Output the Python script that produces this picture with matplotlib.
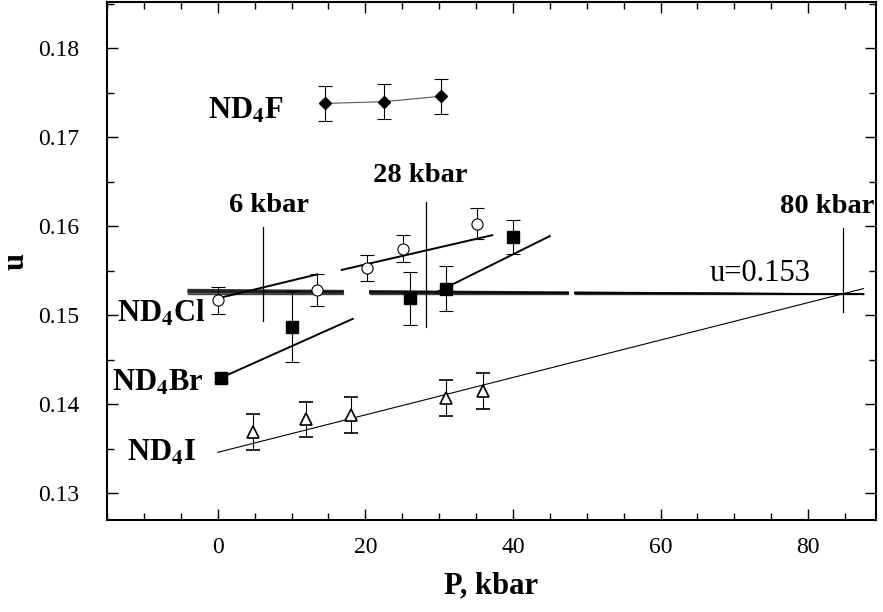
import numpy as np
import matplotlib.pyplot as plt
from matplotlib.ticker import MultipleLocator

plt.rcParams['font.family'] = ['Liberation Serif', 'DejaVu Serif']
plt.rcParams['mathtext.fontset'] = 'stix'

# measured points (P in kbar, u)
f_p = [14.5, 22.5, 30.2]
f_u = [0.1738, 0.1740, 0.1746]
f_err = [0.002, 0.002, 0.002]

cl_p = [0.0, 13.4, 20.2, 25.1, 35.2]
cl_u = [0.1517, 0.1528, 0.1553, 0.1575, 0.1603]
cl_err = [0.0015, 0.0018, 0.0015, 0.0015, 0.0017]

br_p = [0.5, 10.0, 26.0, 31.0, 40.0]
br_u = [0.1430, 0.1487, 0.1519, 0.1530, 0.1588]
br_err = [0.0005, 0.004, 0.003, 0.0025, 0.0019]

i_p = [4.8, 12.0, 18.0, 31.0, 36.0]
i_u = [0.1369, 0.1383, 0.1388, 0.1407, 0.1415]
i_err = [0.002, 0.002, 0.002, 0.002, 0.002]

# fitted lines (end points)
cl_fit = [([0.0, 13.5], [0.1519, 0.1546]), ([16.8, 37.2], [0.1551, 0.1590])]
br_fit = [([0.5, 18.3], [0.1430, 0.1496]), ([29.7, 45.0], [0.1526, 0.1589])]
i_fit = ([0.0, 87.5], [0.1346, 0.1530])

# u = 0.153 bundle, converging at the 80 kbar mark
u_conv = 0.1524
p_conv = 84.7
bundle_offsets = [0.0, 0.0001, 0.0002, 0.0003, 0.0004, 0.0005]
bundle_segments = [(-4.0, 17.0), (20.6, 47.5), (48.4, 87.5)]

# transition markers
marks_p = [6.1, 28.2, 84.7]
marks_lo = [0.1494, 0.1487, 0.1504]
marks_hi = [0.1599, 0.1627, 0.1598]
marks_txt = ['6 kbar', '28 kbar', '80 kbar']
marks_txt_pos = [(7.0, 0.1616), (27.4, 0.1650), (82.6, 0.1615)]

compounds = [r'ND$_\mathbf{4}$F', r'ND$_\mathbf{4}$Cl', r'ND$_\mathbf{4}$Br', r'ND$_\mathbf{4}$I']
compound_pos = [(3.8, 0.1721), (-7.6, 0.1493), (-8.1, 0.1415), (-7.6, 0.1337)]

fig = plt.figure(figsize=(8.83, 6.12), dpi=100)
ax = fig.add_axes([107/883, 1 - 520/612, (876-107)/883, (520-2)/612])

# bundle of near-horizontal lines
for d in bundle_offsets:
    for a, b in bundle_segments:
        xs = np.array([a, b])
        ys = u_conv + d * (p_conv - xs) / (p_conv + 4.0)
        ax.plot(xs, ys, color='black', lw=1.0, alpha=0.75)

for p, lo, hi in zip(marks_p, marks_lo, marks_hi):
    ax.plot([p, p], [lo, hi], color='black', lw=0.9)
for t, (x, y) in zip(marks_txt, marks_txt_pos):
    ax.text(x, y, t, fontsize=20.5, fontweight='bold', ha='center', va='baseline', clip_on=False)

for xs, ys in cl_fit + br_fit:
    ax.plot(xs, ys, color='black', lw=1.4)
ax.plot(i_fit[0], i_fit[1], color='black', lw=0.8)
ax.plot(f_p, f_u, color='#555555', lw=0.8)

ek = dict(ecolor='black', elinewidth=0.8, capsize=5, capthick=0.8, ls='none')
ax.errorbar(f_p, f_u, yerr=f_err, marker='D', ms=6, mfc='black', mec='black', **ek)
ax.errorbar(cl_p, cl_u, yerr=cl_err, marker='o', ms=8, mfc='white', mec='black', mew=0.8, **ek)
ax.errorbar(br_p, br_u, yerr=br_err, marker='s', ms=8, mfc='black', mec='black', **ek)
ax.errorbar(i_p, i_u, yerr=i_err, marker='^', ms=9, mfc='white', mec='black', mew=1.2, **ek)

ax.text(73.5, 0.1539, 'u=0.153', fontsize=22, ha='center', va='baseline')
for t, (x, y) in zip(compounds, compound_pos):
    ax.text(x, y, t, fontsize=22, fontweight='bold', ha='center', va='baseline')

ax.set_xlim(-15, 89.2)
ax.set_ylim(0.127, 0.1852)
ax.xaxis.set_major_locator(MultipleLocator(20))
ax.xaxis.set_minor_locator(MultipleLocator(5))
ax.yaxis.set_minor_locator(MultipleLocator(0.005))
ax.set_yticks([0.13, 0.14, 0.15, 0.16, 0.17, 0.18])
ax.set_yticklabels(['0.13', '0.14', '0.15', '0.16', '0.17', '0.18'])
ax.tick_params(which='both', direction='in', top=True, right=True, labelsize=17, width=1.0)
ax.tick_params(which='major', length=8)
ax.tick_params(axis='x', which='major', pad=12)
ax.tick_params(axis='y', which='major', pad=20)
ax.tick_params(which='minor', length=5)
for s in ax.spines.values():
    s.set_linewidth(1.5)

ax.set_xlabel('P, kbar', fontsize=22, fontweight='bold', labelpad=10)
ax.set_ylabel('u', fontsize=22, fontweight='bold')
ax.yaxis.set_label_coords(-0.1, 0.5)

fig.savefig('out.png', dpi=100)
